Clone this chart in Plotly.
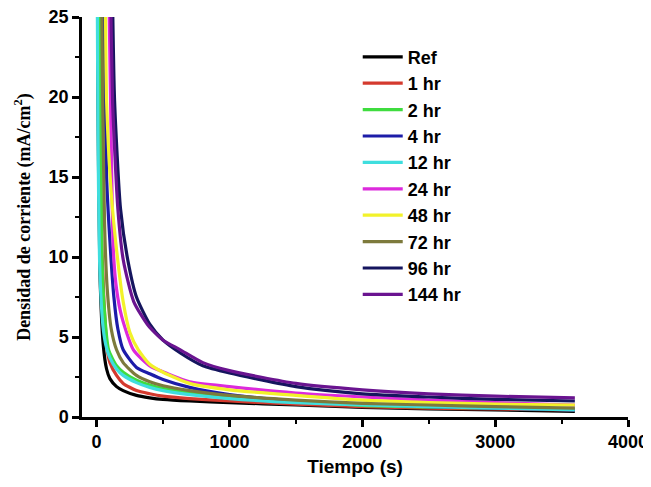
import plotly.graph_objects as go

names = ["Ref", "1 hr", "2 hr", "4 hr", "12 hr", "24 hr", "48 hr", "72 hr", "96 hr", "144 hr"]
colors = ["#000000", "#d43a2e", "#3fdc3f", "#1c1ca8", "#3fdede", "#dc2adc",
          "#f2f22a", "#7d7a3c", "#15155e", "#6a1490"]

t_ref = [0, 10, 25, 50, 75, 100, 150, 200, 300, 400, 500, 700, 1000, 1500, 2000, 2500, 3000, 3600]
v_ref = [40, 20, 9, 4.5, 3.0, 2.4, 1.9, 1.65, 1.35, 1.2, 1.1, 1.0, 0.9, 0.75, 0.6, 0.5, 0.45, 0.35]

t_1hr = [0, 15, 30, 55, 80, 100, 150, 200, 300, 400, 500, 700, 1000, 1500, 2000, 2500, 3000, 3600]
v_1hr = [40, 25, 13, 7.3, 4.2, 3.4, 2.6, 2.1, 1.65, 1.45, 1.3, 1.15, 1.0, 0.8, 0.65, 0.55, 0.5, 0.45]

t_2hr = [0, 25, 30, 40, 60, 90, 150, 200, 300, 400, 500, 700, 1000, 1500, 2000, 2500, 3000, 3600]
v_2hr = [60, 28, 20, 10, 6.5, 4.2, 3.2, 2.8, 2.3, 2.0, 1.8, 1.55, 1.3, 1.0, 0.72, 0.62, 0.55, 0.5]

t_4hr = [0, 55, 75, 100, 130, 160, 200, 300, 400, 500, 700, 1000, 1500, 2000, 2500, 3000, 3600]
v_4hr = [60, 25, 15, 11, 7.5, 5.5, 4.2, 3.1, 2.7, 2.35, 1.85, 1.4, 1.0, 0.8, 0.65, 0.55, 0.45]

t_12hr = [0, 10, 25, 50, 75, 100, 150, 200, 300, 400, 500, 700, 1000, 1500, 2000, 2500, 3000, 3600]
v_12hr = [35, 18, 9, 5.5, 4.3, 3.7, 3.0, 2.6, 2.15, 1.85, 1.65, 1.4, 1.15, 0.9, 0.75, 0.65, 0.55, 0.45]

t_24hr = [0, 90, 105, 126, 150, 189, 277, 400, 528, 700, 1000, 1500, 2000, 2500, 3000, 3600]
v_24hr = [80, 28, 19.8, 10.4, 8.0, 6.27, 4.19, 3.2, 2.73, 2.2, 1.9, 1.5, 1.25, 1.05, 0.9, 0.75]

t_48hr = [0, 65, 75, 110, 151, 200, 250, 314, 400, 500, 700, 1000, 1500, 2000, 2500, 3000, 3600]
v_48hr = [80, 27, 19.8, 14, 10.4, 7.2, 5.3, 4.19, 3.3, 2.8, 2.1, 1.7, 1.35, 1.05, 0.9, 0.8, 0.75]

t_72hr = [0, 40, 46, 60, 80, 110, 150, 200, 300, 400, 500, 700, 1000, 1500, 2000, 2500, 3000, 3600]
v_72hr = [60, 25, 19.8, 12, 8, 5.5, 4.2, 3.4, 2.6, 2.2, 1.95, 1.65, 1.35, 1.05, 0.85, 0.75, 0.65, 0.55]

t_96hr = [0, 118, 135, 180, 235, 300, 400, 500, 630, 800, 1000, 1500, 2000, 2500, 3000, 3600]
v_96hr = [100, 27, 19.8, 13, 9.8, 7.5, 5.8, 4.8, 4.0, 3.2, 2.75, 1.9, 1.45, 1.25, 1.1, 1.0]

t_144hr = [0, 105, 120, 160, 201, 280, 390, 500, 630, 800, 1000, 1500, 2000, 2500, 3000, 3600]
v_144hr = [100, 27, 19.8, 13, 9.8, 7.2, 5.7, 4.8, 4.2, 3.4, 2.9, 2.1, 1.7, 1.45, 1.3, 1.2]

series_t = [t_ref, t_1hr, t_2hr, t_4hr, t_12hr, t_24hr, t_48hr, t_72hr, t_96hr, t_144hr]
series_v = [v_ref, v_1hr, v_2hr, v_4hr, v_12hr, v_24hr, v_48hr, v_72hr, v_96hr, v_144hr]

fig = go.Figure()
for name, c, t, v in zip(names, colors, series_t, series_v):
    fig.add_trace(go.Scatter(x=t, y=v, mode="lines", name=name,
                             line=dict(color=c, width=3.2, shape="spline", smoothing=0.6)))

axis_font = dict(family="Liberation Sans, Arial", size=18, color="black", weight="bold")

fig.update_layout(
    width=643, height=479,
    margin=dict(l=74, r=23, t=9, b=70),
    paper_bgcolor="white", plot_bgcolor="white",
    showlegend=True,
    legend=dict(x=0.505, y=0.946, xanchor="left", yanchor="top",
                font=dict(family="Liberation Sans, Arial", size=18, color="black", weight="bold"),
                bgcolor="rgba(0,0,0,0)", tracegroupgap=0, itemwidth=40),
    xaxis=dict(range=[-110, 4000], tickmode="linear", tick0=0, dtick=1000,
               showline=True, linecolor="black", linewidth=2.5,
               ticks="outside", ticklen=7, tickwidth=2.5, tickcolor="black",
               minor=dict(ticks="outside", ticklen=4, tickwidth=2, dtick=500, tick0=0, tickcolor="black"),
               showgrid=False, zeroline=False, ticklabeloverflow="allow", automargin=False,
               tickfont=axis_font,
               title=dict(text="Tiempo (s)", font=dict(family="Liberation Sans, Arial", size=19,
                                                        color="black", weight="bold"), standoff=9)),
    yaxis=dict(range=[0, 25], tickmode="linear", tick0=0, dtick=5,
               showline=True, linecolor="black", linewidth=2.5,
               ticks="outside", ticklen=7, tickwidth=2.5, tickcolor="black",
               minor=dict(ticks="outside", ticklen=4, tickwidth=2, dtick=2.5, tick0=0, tickcolor="black"),
               showgrid=False, zeroline=False, ticklabeloverflow="allow", automargin=False,
               tickfont=axis_font,
               title=dict(text="Densidad de corriente (mA/cm<sup>2</sup>)",
                          font=dict(family="Liberation Serif, Times New Roman", size=18,
                                    color="black", weight="bold"), standoff=14)),
)

fig.write_html("out.html")
